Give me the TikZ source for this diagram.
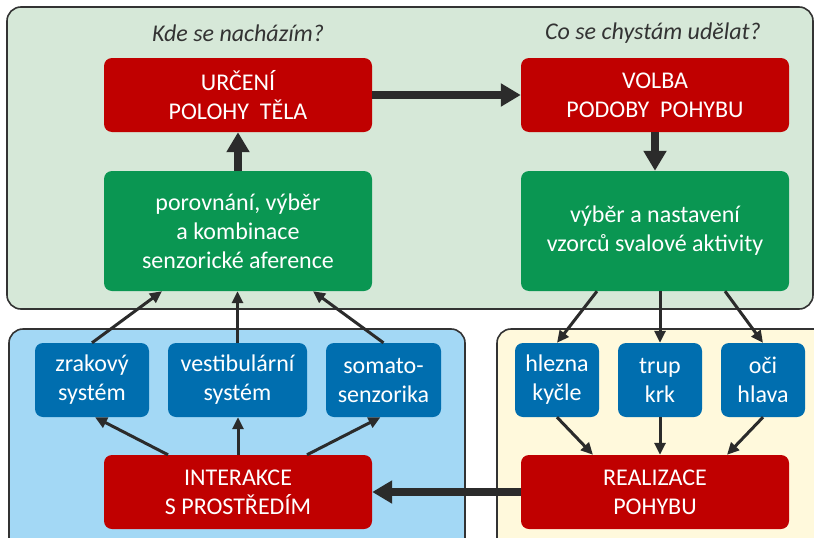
\documentclass[tikz,border=0pt]{standalone}
\usepackage{fontspec}
\setmainfont{Carlito}
\usetikzlibrary{arrows.meta}
\definecolor{panelgreen}{RGB}{214,232,216}
\definecolor{panelblue}{RGB}{163,216,245}
\definecolor{panelyellow}{RGB}{255,249,220}
\definecolor{framegray}{RGB}{51,51,51}
\definecolor{arrowgray}{RGB}{43,43,43}
\definecolor{boxred}{RGB}{192,0,0}
\definecolor{boxgreen}{RGB}{10,150,82}
\definecolor{boxblue}{RGB}{0,110,175}
\begin{document}
\begin{tikzpicture}[x=1pt,y=-1pt,
    panel/.style={draw=framegray,line width=1.6pt,rounded corners=14pt},
    box/.style={rounded corners=8pt,text=white,align=center,inner sep=0pt,
      font=\fontsize{24}{29}\selectfont},
    redbox/.style={box,fill=boxred,minimum width=268pt,minimum height=74pt},
    greenbox/.style={box,fill=boxgreen,minimum width=268pt,minimum height=120pt},
    bluebox/.style={box,fill=boxblue,minimum height=74pt},
    question/.style={text=framegray,font=\fontsize{24}{28}\selectfont\itshape},
    thin/.style={draw=arrowgray,line width=3pt,-{Triangle[length=12pt,width=11pt]}},
    thick/.style={draw=arrowgray,line width=8pt,-{Triangle[length=20pt,width=22pt]}}]
  \useasboundingbox (0,0) rectangle (814,538);
  \clip (0,0) rectangle (814,538);
  % panels
  \draw[panel,fill=panelgreen] (7,7) rectangle (813,309);
  \draw[panel,fill=panelblue] (9,329) rectangle (465,570);
  \draw[panel,fill=panelyellow] (497,329) rectangle (850,570);
  \node[question] (qwhere) at (238,33) {Kde se nacházím?};
  \node[question] (qwhat) at (653,33) {Co se chystám udělat?};
  % upper part
  \node[redbox] (poloha) at (238,95) {URČENÍ\\POLOHY~~TĚLA};
  \node[redbox] (volba) at (655,95) {VOLBA\\PODOBY~~POHYBU};
  \node[greenbox] (aference) at (238,231) {porovnání, výběr\\a kombinace\\senzorické aference};
  \node[greenbox] (vzorce) at (655,231) {výběr a nastavení\\vzorců svalové aktivity};
  % senses
  \node[bluebox,minimum width=114pt] (zrak) at (92,380) {zrakový\\systém};
  \node[bluebox,minimum width=139pt] (vestib) at (237.5,380) {vestibulární\\systém};
  \node[bluebox,minimum width=115pt] (somato) at (383.5,380) {somato-\\senzorika};
  \node[redbox] (interakce) at (238,492) {INTERAKCE\\S PROSTŘEDÍM};
  % body parts
  \node[bluebox,minimum width=84pt] (hlezna) at (557,380) {hlezna\\kyčle};
  \node[bluebox,minimum width=84pt] (trup) at (660,380) {trup\\krk};
  \node[bluebox,minimum width=84pt] (oci) at (763,380) {oči\\hlava};
  \node[redbox] (realizace) at (655,492) {REALIZACE\\POHYBU};
  % thick arrows
  \draw[thick] (poloha) -- (volba);
  \draw[thick] (aference) -- (poloha);
  \draw[thick] (volba) -- (vzorce);
  \draw[thick] (realizace) -- (interakce);
  % thin arrows
  \draw[thin] (zrak.north) -- ([xshift=-76pt]aference.south);
  \draw[thin] (vestib.north) -- (vestib.north |- aference.south);
  \draw[thin] (somato.north) -- ([xshift=75pt]aference.south);
  \draw[thin] ([xshift=-70pt]interakce.north) -- ([xshift=3pt]zrak.south);
  \draw[thin] (interakce.north) -- (interakce.north |- vestib.south);
  \draw[thin] ([xshift=69pt]interakce.north) -- ([xshift=-3pt]somato.south);
  \draw[thin] ([xshift=-58pt]vzorce.south) -- (hlezna.north);
  \draw[thin] (trup.north |- vzorce.south) -- (trup.north);
  \draw[thin] ([xshift=70pt]vzorce.south) -- (oci.north);
  \draw[thin] (hlezna.south) -- ([xshift=-62pt]realizace.north);
  \draw[thin] (trup.south) -- (trup.south |- realizace.north);
  \draw[thin] (oci.south) -- ([xshift=72pt]realizace.north);
\end{tikzpicture}
\end{document}
